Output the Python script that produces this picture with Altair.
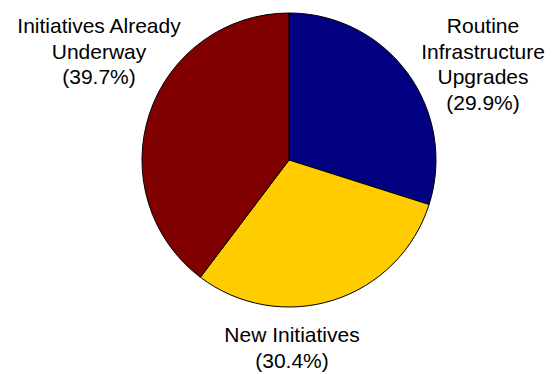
import altair as alt
import pandas as pd

categories = ["Routine Infrastructure Upgrades", "New Initiatives", "Initiatives Already Underway"]
shares = [29.9, 30.4, 39.7]
colors = ["#000080", "#FFCC00", "#800000"]

df = pd.DataFrame({"category": categories, "share": shares, "order": [0, 1, 2]})

pie = alt.Chart(df).mark_arc(outerRadius=147, stroke="black", strokeWidth=1).encode(
    theta=alt.Theta("share:Q", stack=True),
    color=alt.Color("category:N", scale=alt.Scale(domain=categories, range=colors), legend=None),
    order=alt.Order("order:Q"),
    x=alt.value(289),
    y=alt.value(160),
)

def label(lines, x, y):
    return alt.Chart(pd.DataFrame({"t": ["\n".join(lines)]})).mark_text(
        font="Liberation Sans", fontSize=21, align="center", baseline="alphabetic",
        lineBreak="\n", lineHeight=25.5, color="black"
    ).encode(text="t:N", x=alt.value(x), y=alt.value(y))

lab1 = label(["Routine", "Infrastructure", "Upgrades", f"({shares[0]}%)"], 483, 33)
lab2 = label(["New Initiatives", f"({shares[1]}%)"], 292, 342)
lab3 = label(["Initiatives Already", "Underway", f"({shares[2]}%)"], 99, 33)

chart = alt.layer(pie, lab1, lab2, lab3).properties(
    width=559, height=374, autosize=alt.AutoSizeParams(type="none"), padding=0
).configure_view(stroke=None)

chart.save("out.html", embed_options={"renderer": "svg", "actions": False})
